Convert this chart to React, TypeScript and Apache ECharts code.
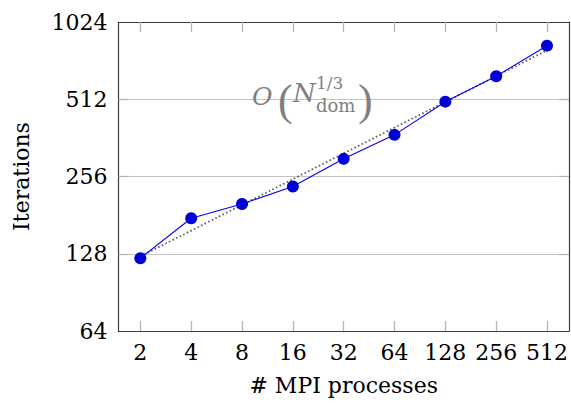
import React, { useEffect, useRef } from "react";
import * as echarts from "echarts";

// Number of MPI processes (x) and solver iterations (y)
const processes = [2, 4, 8, 16, 32, 64, 128, 256, 512];
const iterations = [123, 176, 200, 234, 300, 372, 501, 629, 828];

// Reference O(N_dom^{1/3}) trend, end points
const trendX = [2, 512];
const trendY = [125, 794];

const yTicks = [64, 128, 256, 512, 1024];
const yGridTicks = [128, 256, 512];

const FONT = "DejaVu Serif";
const GRAY = "#7f7f7f";

export default function App() {
  const ref = useRef<HTMLDivElement>(null);

  useEffect(() => {
    if (!ref.current) return;
    const chart = echarts.init(ref.current, undefined, { renderer: "svg" });

    const axisLine = { show: true, lineStyle: { color: "#3c3c3c", width: 1.2 } };
    const tick = { show: true, inside: true, length: 10, lineStyle: { color: "#b4b4b4", width: 1.3 } };
    const xMin = Math.pow(2, 0.57);
    const xMax = Math.pow(2, 9.43);

    const note = (text: string, x: number, y: number, size: number, extra: object = {}) => ({
      type: "text",
      x,
      y,
      z: 10,
      style: { text, fontFamily: FONT, fontSize: size, fill: GRAY, verticalAlign: "middle", ...extra },
    });

    chart.setOption({
      animation: false,
      grid: { left: 118.5, top: 22, right: 1, bottom: 81 },
      xAxis: [
        {
          type: "log",
          logBase: 2,
          min: xMin,
          max: xMax,
          position: "bottom",
          axisLine,
          axisTick: { ...tick, customValues: processes },
          axisLabel: {
            customValues: processes,
            color: "#000",
            fontFamily: FONT,
            fontSize: 22,
            margin: 10,
            formatter: (v: number) => String(Math.round(v)),
          },
          splitLine: { show: false },
          minorTick: { show: false },
          name: "# MPI processes",
          nameLocation: "middle",
          nameGap: 43,
          nameTextStyle: { color: "#000", fontFamily: FONT, fontSize: 22 },
        },
        {
          type: "log",
          logBase: 2,
          min: xMin,
          max: xMax,
          position: "top",
          axisLine,
          axisTick: { ...tick, customValues: processes },
          axisLabel: { show: false },
          splitLine: { show: false },
        },
      ],
      yAxis: [
        {
          type: "log",
          logBase: 2,
          min: 64,
          max: 1024,
          position: "left",
          axisLine,
          axisTick: { ...tick, customValues: yGridTicks },
          axisLabel: {
            customValues: yTicks,
            color: "#000",
            fontFamily: FONT,
            fontSize: 22,
            margin: 11,
            formatter: (v: number) => String(Math.round(v)),
          },
          splitLine: { show: true, lineStyle: { color: "#c4c4c4", width: 1 } },
          name: "Iterations",
          nameLocation: "middle",
          nameGap: 86,
          nameRotate: 90,
          nameTextStyle: { color: "#000", fontFamily: FONT, fontSize: 22 },
        },
        {
          type: "log",
          logBase: 2,
          min: 64,
          max: 1024,
          position: "right",
          axisLine,
          axisTick: { ...tick, customValues: yGridTicks },
          axisLabel: { show: false },
          splitLine: { show: false },
        },
      ],
      series: [
        {
          type: "line",
          data: trendX.map((x, i) => [x, trendY[i]]),
          symbol: "none",
          lineStyle: { color: "#606060", width: 1.8, type: [1.6, 2.4] },
          z: 2,
        },
        {
          type: "line",
          data: processes.map((x, i) => [x, iterations[i]]),
          symbol: "circle",
          symbolSize: 12,
          itemStyle: { color: "#0000d6" },
          lineStyle: { color: "#0000ff", width: 1.1 },
          z: 3,
        },
      ],
      // Annotation of the trend: O(N_dom^{1/3})
      graphic: [
        note("O", 252, 96, 25, { fontStyle: "italic" }),
        note("(", 278, 100, 44, { fontFamily: "Liberation Serif" }),
        note("N", 293, 93, 26, { fontStyle: "italic" }),
        note("1/3", 316, 83, 17),
        note("dom", 316, 105, 18),
        note(")", 358, 100, 44, { fontFamily: "Liberation Serif" }),
      ],
    });

    return () => chart.dispose();
  }, []);

  return <div ref={ref} style={{ position: "absolute", left: 0, top: 0, width: 571, height: 412 }} />;
}
